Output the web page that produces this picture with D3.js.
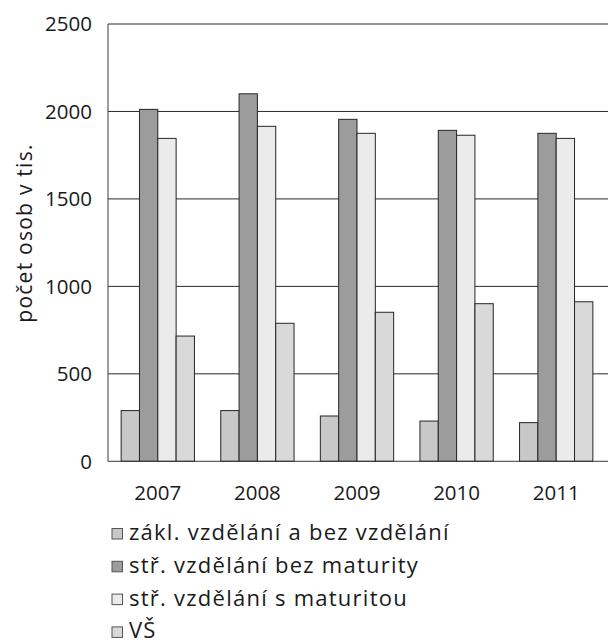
<!DOCTYPE html>
<html>
<head>
<meta charset="utf-8">
<script src="https://cdn.jsdelivr.net/npm/d3@7"></script>
<style>
  html, body { margin: 0; padding: 0; background: #fff; }
  svg { display: block; }
  text { font-family: "Open Sans", Lato, sans-serif; fill: #1a1a1a; }
</style>
</head>
<body>
<svg id="chart" width="608" height="643"></svg>
<script>
const years = ["2007", "2008", "2009", "2010", "2011"];
const seriesNames = [
  "zákl. vzdělání a bez vzdělání",
  "stř. vzdělání bez maturity",
  "stř. vzdělání s maturitou",
  "VŠ"
];
const zakl = [290, 290, 259, 230, 221];
const strBez = [2012, 2101, 1955, 1892, 1875];
const strS = [1846, 1915, 1875, 1864, 1846];
const vs = [716, 789, 852, 901, 912];
const seriesValues = [zakl, strBez, strS, vs];
const colors = ["#c7c8c7", "#9b9c9b", "#ebebeb", "#d9d9d9"];
const yTicks = [0, 500, 1000, 1500, 2000, 2500];
const yTitle = "počet osob v tis.";

const svg = d3.select("#chart");
const mLeft = 108, mRight = 606, gridRight = 608, mTop = 24, mBottom = 461.3;

const x0 = d3.scaleBand().domain(years).range([mLeft, mRight])
  .paddingInner(0.264).paddingOuter(0.132);
const x1 = d3.scaleBand().domain(d3.range(seriesNames.length)).range([0, x0.bandwidth()]);
const y = d3.scaleLinear().domain([0, 2500]).range([mBottom, mTop]);

// gridlines
svg.append("g").selectAll("line").data(yTicks.filter(d => d > 0)).join("line")
  .attr("x1", mLeft).attr("x2", gridRight)
  .attr("y1", d => y(d)).attr("y2", d => y(d))
  .attr("stroke", "#2a2a2a").attr("stroke-width", 1);

// bars
const groups = svg.append("g").selectAll("g").data(years).join("g")
  .attr("transform", d => `translate(${x0(d)},0)`);
groups.selectAll("rect")
  .data((d, i) => seriesValues.map((vals, s) => ({ s, v: vals[i] })))
  .join("rect")
  .attr("x", d => x1(d.s))
  .attr("width", x1.bandwidth())
  .attr("y", d => y(d.v))
  .attr("height", d => y(0) - y(d.v))
  .attr("fill", d => colors[d.s])
  .attr("stroke", "#262626").attr("stroke-width", 1);

// axes lines
svg.append("line").attr("x1", mLeft).attr("x2", mLeft).attr("y1", mTop).attr("y2", mBottom)
  .attr("stroke", "#3a3a3a").attr("stroke-width", 1);
svg.append("line").attr("x1", mLeft).attr("x2", gridRight).attr("y1", mBottom).attr("y2", mBottom)
  .attr("stroke", "#3a3a3a").attr("stroke-width", 1);

// y tick labels
svg.append("g").selectAll("text").data(yTicks).join("text")
  .attr("x", 92).attr("y", d => y(d)).attr("dy", "0.36em")
  .attr("text-anchor", "end").attr("font-size", 20.5)
  .text(d => d);

// x tick labels
svg.append("g").selectAll("text").data(years).join("text")
  .attr("x", d => x0(d) + x0.bandwidth() / 2).attr("y", 500)
  .attr("text-anchor", "middle").attr("font-size", 20.5)
  .text(d => d);

// y title
svg.append("text")
  .attr("transform", "translate(32,233) rotate(-90)")
  .attr("text-anchor", "middle").attr("font-size", 21)
  .attr("letter-spacing", 1.25)
  .text(yTitle);

// legend
const leg = svg.append("g").selectAll("g").data(seriesNames).join("g")
  .attr("transform", (d, i) => `translate(112,${540 + i * 32.8})`);
leg.append("rect").attr("x", 0).attr("y", -11.5).attr("width", 10.5).attr("height", 10.5)
  .attr("fill", (d, i) => colors[i]).attr("stroke", "#555").attr("stroke-width", 1);
leg.append("text").attr("x", 17).attr("y", 0).attr("font-size", 22)
  .attr("letter-spacing", 1.25)
  .text(d => d);
</script>
</body>
</html>
